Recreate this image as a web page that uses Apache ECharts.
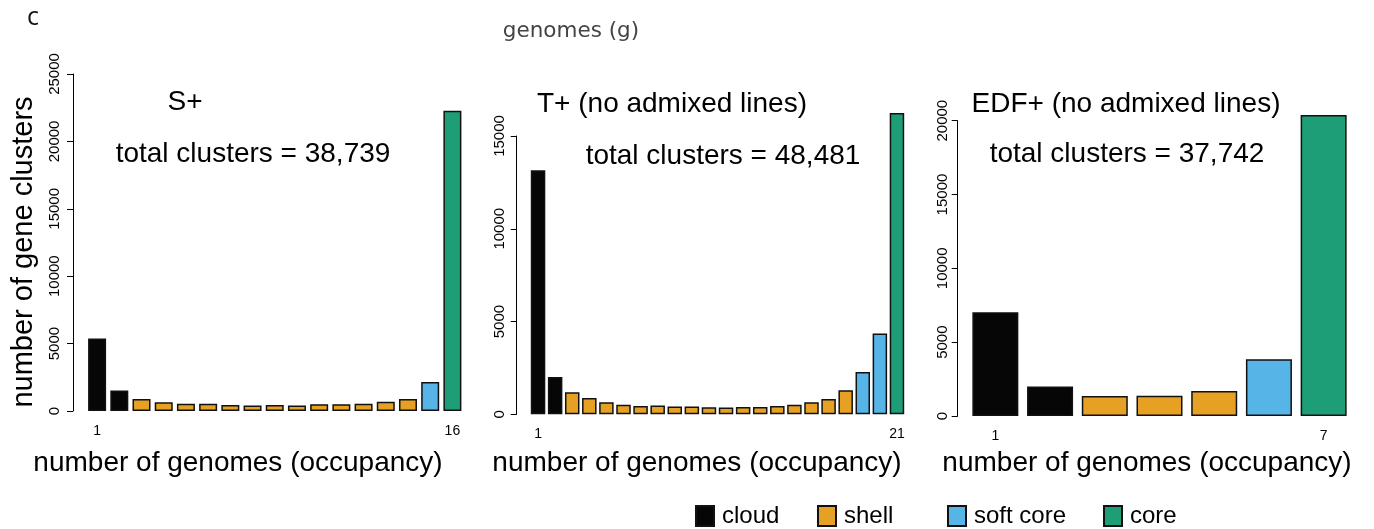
<!DOCTYPE html>
<html><head><meta charset="utf-8">
<script src="https://cdn.jsdelivr.net/npm/echarts@6/dist/echarts.min.js"></script>
<style>html,body{margin:0;padding:0;background:#fff}#c{width:1374px;height:529px}</style>
</head><body><div id="c"></div>
<script>
// ---- data ----
const classNames = ['cloud', 'shell', 'soft core', 'core'];
const classColors = ['#060606', '#E6A124', '#56B4E6', '#1E9E76'];

const sTitle = 'S+';
const sTotal = 'total clusters = 38,739';
const sCategories = ['1','2','3','4','5','6','7','8','9','10','11','12','13','14','15','16','17'];
const sTickLabels = ['1','','','','','','','','','','','','','','','','16'];
const sValues = [5380, 1530, 890, 640, 540, 540, 450, 400, 450, 400, 500, 500, 540, 690, 890, 2150, 22280];
const sClasses = ['cloud','cloud','shell','shell','shell','shell','shell','shell','shell','shell','shell','shell','shell','shell','shell','soft core','core'];
const sYTicks = [0, 25000, 5000];

const tTitle = 'T+ (no admixed lines)';
const tTotal = 'total clusters = 48,481';
const tCategories = ['1','2','3','4','5','6','7','8','9','10','11','12','13','14','15','16','17','18','19','20','21','22'];
const tTickLabels = ['1','','','','','','','','','','','','','','','','','','','','','21'];
const tValues = [13150, 2015, 1190, 880, 650, 520, 450, 470, 415, 415, 380, 360, 395, 395, 450, 520, 650, 830, 1295, 2285, 4350, 16240];
const tClasses = ['cloud','cloud','shell','shell','shell','shell','shell','shell','shell','shell','shell','shell','shell','shell','shell','shell','shell','shell','shell','soft core','soft core','core'];
const tYTicks = [0, 15000, 5000];

const eTitle = 'EDF+ (no admixed lines)';
const eTotal = 'total clusters = 37,742';
const eCategories = ['1','2','3','4','5','6','7'];
const eTickLabels = ['1','','','','','','7'];
const eValues = [7030, 2000, 1350, 1370, 1690, 3850, 20380];
const eClasses = ['cloud','cloud','shell','shell','shell','soft core','core'];
const eYTicks = [0, 20000, 5000];

const panelLetter = 'c';
const topLabel = 'genomes (g)';
const xName = 'number of genomes (occupancy)';
const yName = 'number of gene clusters';

// ---- layout ----
const FONT = "'Liberation Sans', Arial, Helvetica, sans-serif";
const panels = [
  {cats: sCategories, ticks: sTickLabels, vals: sValues, cls: sClasses, y: sYTicks,
   grid: {left: 86, width: 377.5, top: 74, height: 337}, offset: 13, barWidth: 18, margin: 11},
  {cats: tCategories, ticks: tTickLabels, vals: tValues, cls: tClasses, y: tYTicks,
   grid: {left: 529.5, width: 376, top: 136, height: 278.3}, offset: 12.8, barWidth: 14.5, margin: 9},
  {cats: eCategories, ticks: eTickLabels, vals: eValues, cls: eClasses, y: eYTicks,
   grid: {left: 968, width: 383, top: 120.7, height: 295.3}, offset: 10.3, barWidth: 46, margin: 7}
];

const grids = [], xAxes = [], yAxes = [], series = [];
panels.forEach((p, pi) => {
  grids.push(Object.assign({containLabel: false}, p.grid));
  xAxes.push({
    type: 'category', gridIndex: pi, data: p.cats,
    axisLine: {show: false}, axisTick: {show: false}, splitLine: {show: false},
    axisLabel: {interval: 0, fontSize: 14, color: '#000', fontFamily: FONT, margin: 13,
      formatter: (v, idx) => p.ticks[idx]}
  });
  yAxes.push({
    type: 'value', gridIndex: pi, min: p.y[0], max: p.y[1], interval: p.y[2],
    offset: p.offset,
    splitLine: {show: false},
    axisLine: {show: true, lineStyle: {color: '#000', width: 1}},
    axisTick: {show: true, length: 6, lineStyle: {color: '#000', width: 1}},
    axisLabel: {rotate: 90, fontSize: 15, color: '#000', fontFamily: FONT, margin: p.margin,
      formatter: v => String(v)}
  });
  classNames.forEach((cn, ci) => {
    series.push({
      type: 'bar', name: cn, xAxisIndex: pi, yAxisIndex: pi,
      barWidth: p.barWidth, barGap: '-100%', clip: false, animation: false,
      data: p.vals.map((v, i) => p.cls[i] === cn ? v : null),
      itemStyle: {color: classColors[ci], borderColor: '#111', borderWidth: 1.5}
    });
  });
});

function txt(text, x, y, size, extra, family, fill) {
  return Object.assign({
    type: 'text', x: x, y: y,
    style: {text: text, fontSize: size, fontFamily: family || FONT, fill: fill || '#000',
            align: 'center', verticalAlign: 'middle', textAlign: 'center', textVerticalAlign: 'middle'}
  }, extra || {});
}

const graphics = [
  txt(panelLetter, 33, 18, 25, null, "'Open Sans', sans-serif", '#111'),
  txt(topLabel, 571, 31, 21.5, null, "'DejaVu Sans', sans-serif", '#444'),
  txt(sTitle, 185, 102, 28),
  txt(sTotal, 253, 154, 28),
  txt(tTitle, 672, 104, 28),
  txt(tTotal, 723, 156, 28),
  txt(eTitle, 1126, 104, 28),
  txt(eTotal, 1127, 154, 28),
  txt(xName, 238, 463, 28),
  txt(xName, 697, 463, 28),
  txt(xName, 1147, 463, 28),
  txt(yName, 24, 252, 29, {rotation: Math.PI / 2})
];

const legendLefts = [695, 817, 947, 1103];
const legends = classNames.map((cn, i) => ({
  data: [cn], left: legendLefts[i], top: 504, padding: 0, orient: 'horizontal',
  icon: 'rect', itemWidth: 18, itemHeight: 20, selectedMode: false,
  textStyle: {fontSize: 24, fontFamily: FONT, color: '#000', padding: [0, 0, 0, 3]}
}));

const chart = echarts.init(document.getElementById('c'), null, {renderer: 'canvas'});
chart.setOption({
  backgroundColor: '#fff',
  animation: false,
  grid: grids, xAxis: xAxes, yAxis: yAxes, series: series,
  legend: legends,
  graphic: graphics
});
</script></body></html>
